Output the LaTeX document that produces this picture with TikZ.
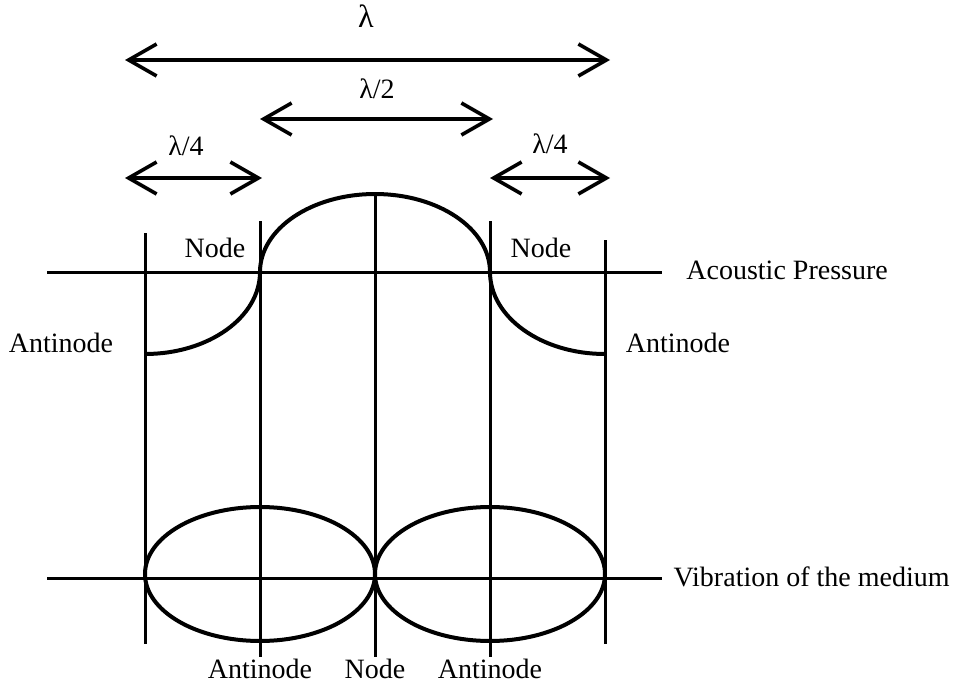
\documentclass[tikz,border=0pt]{standalone}
\usepackage{fontspec}
\setmainfont{Liberation Serif}
\usetikzlibrary{arrows.meta}

\begin{document}
\begin{tikzpicture}[
  x=0.5pt, y=-0.5pt,
  font=\fontsize{14}{16}\selectfont,
  lbl/.style={inner sep=0pt, anchor=base},
  sidelbl/.style={inner sep=0pt, anchor=base west},
  axis/.style={line width=1.5pt},
  wave/.style={line width=2pt},
  dimarr/.style={{Straight Barb[length=14pt,width=16pt]}-{Straight Barb[length=14pt,width=16pt]}, line width=1.8pt}
]
\useasboundingbox (0,0) rectangle (960,685);
\def\xA{145}\def\xB{260}\def\xC{375}\def\xD{490}\def\xE{605}
\def\yP{272}\def\yV{578}

% ================= WAVELENGTH SPANS =================
\coordinate (la) at (125,60);  \coordinate (lb) at (610,60);
\coordinate (ha) at (260,119); \coordinate (hb) at (493,119);
\coordinate (qa) at (125,178); \coordinate (qb) at (262,178);
\coordinate (ra) at (490,178); \coordinate (rb) at (610,178);
\draw[dimarr] (la)--(lb); \draw[dimarr] (ha)--(hb);
\draw[dimarr] (qa)--(qb); \draw[dimarr] (ra)--(rb);
\node[lbl, scale=1.15] (lam)  at (366,27)  {λ};
\node[lbl] (half) at (377,98)  {λ/2};
\node[lbl] (qL)   at (186,155) {λ/4};
\node[lbl] (qR)   at (550,153) {λ/4};

% ================= GRID =================
\foreach \i/\x/\t/\b in {1/\xA/233/644, 2/\xB/221/657, 3/\xC/193/657, 4/\xD/221/657, 5/\xE/240/644}{
  \coordinate (t\i) at (\x,\t); \coordinate (b\i) at (\x,\b);
  \draw[axis] (t\i)--(b\i);
}
\coordinate (pl) at (47,\yP); \coordinate (pr) at (662,\yP);
\coordinate (vl) at (47,\yV); \coordinate (vr) at (662,\yV);
\draw[axis] (pl)--(pr); \draw[axis] (vl)--(vr);

% ================= PRESSURE =================
\draw[wave] (\xA,354) .. controls (208.5,354) and (\xB,317.3) .. (\xB,\yP)
  .. controls (\xB,228.9) and (311.5,194) .. (\xC,194)
  .. controls (438.5,194) and (\xD,228.9) .. (\xD,\yP)
  .. controls (\xD,317.3) and (541.5,354) .. (\xE,354);

% ================= VIBRATION =================
\draw[wave] (\xB,574) ellipse [x radius=57.5pt, y radius=33.5pt];
\draw[wave] (\xD,574) ellipse [x radius=57.5pt, y radius=33.5pt];

% ================= LABELS =================
\node[lbl] (nL) at (215,257) {Node};
\node[lbl] (nR) at (541,257) {Node};
\node[lbl] (aL) at (61,352)  {Antinode};
\node[lbl] (aR) at (678,352) {Antinode};
\node[sidelbl] (ap) at (686,279) {Acoustic Pressure};
\node[lbl, anchor=base east] (vm) at (950,586) {Vibration of the medium};
\node[lbl] (bA1) at (\xB,678) {Antinode};
\node[lbl] (bN)  at (\xC,678) {Node};
\node[lbl] (bA2) at (\xD,678) {Antinode};

\end{tikzpicture}
\end{document}
